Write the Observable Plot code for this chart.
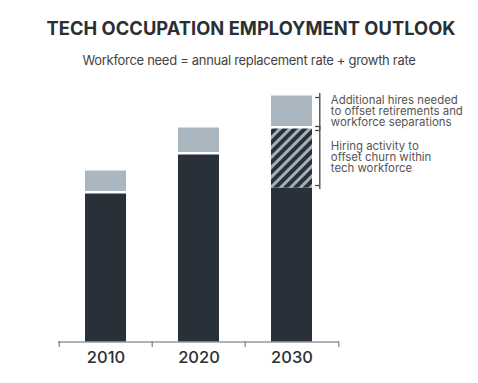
<!DOCTYPE html>
<html>
<head>
<meta charset="utf-8">
<script src="https://cdn.jsdelivr.net/npm/d3@7"></script>
<script src="https://cdn.jsdelivr.net/npm/@observablehq/plot@0.6"></script>
<style>
  html, body { margin: 0; padding: 0; background: #fff; }
  #wrap { position: relative; width: 478px; height: 383px; font-family: Inter, "Noto Sans", sans-serif; }
  #head { position: relative; height: 80px; }
  #title { position: absolute; left: 24px; right: 0; top: 19.3px; text-align: center; font-size: 18.3px; line-height: 18.3px; font-weight: 700; color: #2a2f35; white-space: nowrap; letter-spacing: 0.05px; }
  #subtitle { position: absolute; left: 20px; right: 0; top: 53.5px; text-align: center; font-size: 13px; line-height: 13px; font-weight: 400; color: #444; white-space: nowrap; letter-spacing: -0.3px; }
  svg { display: block; }
</style>
</head>
<body>
<div id="wrap">
  <div id="head">
    <div id="title">TECH OCCUPATION EMPLOYMENT OUTLOOK</div>
    <div id="subtitle">Workforce need = annual replacement rate + growth rate</div>
  </div>
  <div id="chart"></div>
</div>
<script>
const years = ["2010", "2020", "2030"];
const baseWorkforce = [148, 187, 154];
const churnHires = [0, 0, 59];
const additionalHires = [23, 27, 33];
const annotations = [
  "Additional hires needed\nto offset retirements and\nworkforce separations",
  "Hiring activity to\noffset churn within\ntech workforce"
];

const DARK = "#28313a";
const LIGHT = "#aab6c0";

const rows = years.map((year, i) => ({
  year,
  base: baseWorkforce[i],
  top: baseWorkforce[i] + churnHires[i],
  total: baseWorkforce[i] + churnHires[i] + additionalHires[i],
  churn: churnHires[i]
}));
const last = rows[rows.length - 1];
const brackets = [
  {year: last.year, lo: last.top, hi: last.total, label: annotations[0]},
  {year: last.year, lo: last.base, hi: last.top, label: annotations[1]}
];

const step = (478 - 58 - 139) / years.length;
const bw = step * 0.445;

const chart = Plot.plot({
  width: 478,
  height: 303,
  marginLeft: 58,
  marginRight: 139,
  marginTop: 11.5,
  marginBottom: 41.5,
  style: {fontFamily: "Inter, 'Noto Sans', sans-serif", background: "white"},
  x: {domain: years, paddingInner: 0.555, paddingOuter: 0.2775, axis: null},
  y: {domain: [0, 250], axis: null},
  marks: [
    Plot.barY(rows, {x: "year", y1: 0, y2: "base", fill: DARK}),
    Plot.barY(rows.filter(d => d.churn > 0), {x: "year", y1: "base", y2: "top", fill: "url(#hatch)"}),
    Plot.barY(rows, {x: "year", y1: "top", y2: "total", fill: LIGHT, insetBottom: 2.5}),
    Plot.ruleY([0], {stroke: "#666", strokeWidth: 1}),
    Plot.ruleX(years, {x: d => d, y1: 0, y2: -5.5, dx: -step / 2, stroke: "#666"}),
    Plot.ruleX(years.slice(-1), {x: d => d, y1: 0, y2: -5.5, dx: step / 2, stroke: "#666"}),
    Plot.text(years, {x: d => d, frameAnchor: "bottom", dy: 21.2, fontSize: 16.5, fontWeight: 500, fill: "#2a2f35"}),
    Plot.ruleX(brackets, {x: "year", y1: "lo", y2: "hi", dx: 27.8, insetTop: 1.5, insetBottom: 2.5, stroke: "#444", strokeWidth: 1.3}),
    Plot.tickY(brackets, {x: "year", y: "hi", dy: 1.5, dx: 7, insetLeft: bw - 4.5, stroke: "#444", strokeWidth: 1.3}),
    Plot.tickY(brackets, {x: "year", y: "lo", dy: -2.5, dx: 7, insetLeft: bw - 4.5, stroke: "#444", strokeWidth: 1.3}),
    Plot.text(brackets, {x: "year", y: d => (d.lo + d.hi) / 2, text: "label", dx: 38.8, dy: -1, textAnchor: "start", lineAnchor: "middle", fontSize: 11.4, lineHeight: 0.96, fill: "#555"})
  ]
});

const ns = "http://www.w3.org/2000/svg";
const defs = document.createElementNS(ns, "defs");
defs.innerHTML = `<pattern id="hatch" width="7" height="7" patternUnits="userSpaceOnUse" patternTransform="rotate(45)">
  <rect width="7" height="7" fill="${DARK}"></rect>
  <rect width="3" height="7" fill="#a3afb9"></rect>
</pattern>`;
chart.insertBefore(defs, chart.firstChild);
document.getElementById("chart").appendChild(chart);
</script>
</body>
</html>
